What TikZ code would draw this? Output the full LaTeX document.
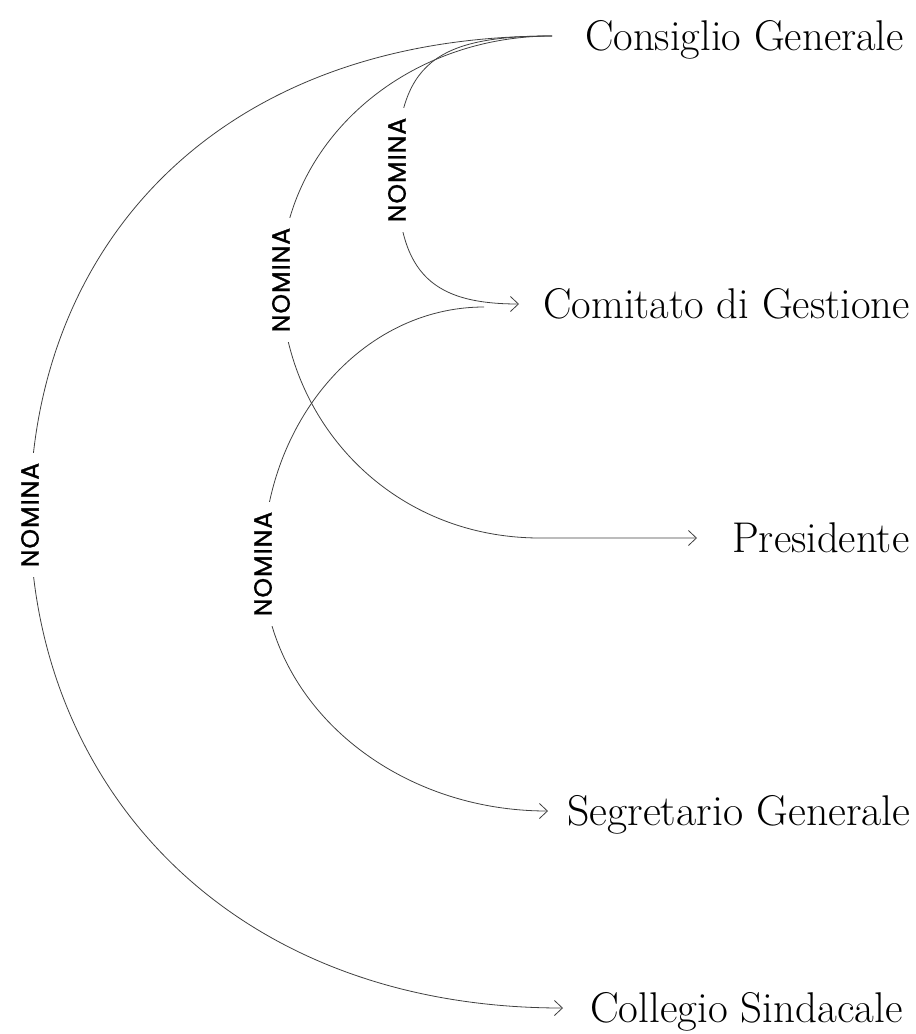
\documentclass[tikz,border=0pt]{standalone}
\usepackage{fontspec}
\usetikzlibrary{arrows.meta}
\newfontfamily\nomfont{Poppins}[LetterSpace=4,FakeBold=1.2]
\newcommand{\mysx}[2][0.99]{\scalebox{#1}[1]{#2}}
\tikzset{
  ent/.style={anchor=west, inner ysep=0pt, text height=29pt, text depth=0pt,
    font=\fontsize{43}{43}\selectfont},
  nom/.style={fill=white, inner xsep=10pt, inner ysep=2pt, rotate=90,
    font=\nomfont\fontsize{25}{25}\selectfont},
  link/.style={line width=0.8pt, draw=black!75},
  arr/.style={link, -{Straight Barb[length=8pt,width=15pt,line width=0.8pt]}}
}
\begin{document}
\begin{tikzpicture}[x=1pt,y=-1pt]
\useasboundingbox (0,0) rectangle (916,1034);
% entities
\node[ent, inner xsep=33pt] (cg)   at (552,36)   {\mysx{Consiglio Generale}};
\node[ent, inner xsep=24pt] (cdg)  at (519,304)  {\mysx{Comitato di Gestione}};
\node[ent, inner xsep=35pt] (pres) at (697,538)  {\mysx{Presidente}};
\node[ent, inner xsep=19pt] (sg)   at (548,811)  {\mysx[1.02]{Segretario Generale}};
\node[ent, inner xsep=27pt] (cs)   at (563,1008) {\mysx[1.0]{Collegio Sindacale}};
\coordinate (cdgout) at (484,307);
% Consiglio -> Collegio Sindacale
\draw[arr] (cg.west) .. controls (212,36) and (30,251) .. (30,515)
  node[nom] {NOMINA}
  .. controls (30,779) and (223,1008) .. (cs.west);
% Consiglio -> Presidente
\draw[arr] (cg.west) .. controls (402,36) and (281,145) .. (281,280)
  node[nom] {NOMINA}
  .. controls (281,420) and (390,538) .. (540,538) -- (pres.west);
% Consiglio -> Comitato
\draw[arr] (cg.west) .. controls (436,36) and (397,63) .. (397,170)
  node[nom] {NOMINA}
  .. controls (397,269) and (427,304) .. (cdg.west);
% Comitato -> Segretario
\draw[arr] (cdgout) .. controls (362,307) and (263,422) .. (263,564)
  node[nom] {NOMINA}
  .. controls (263,701) and (391,811) .. (sg.west);
\end{tikzpicture}
\end{document}
